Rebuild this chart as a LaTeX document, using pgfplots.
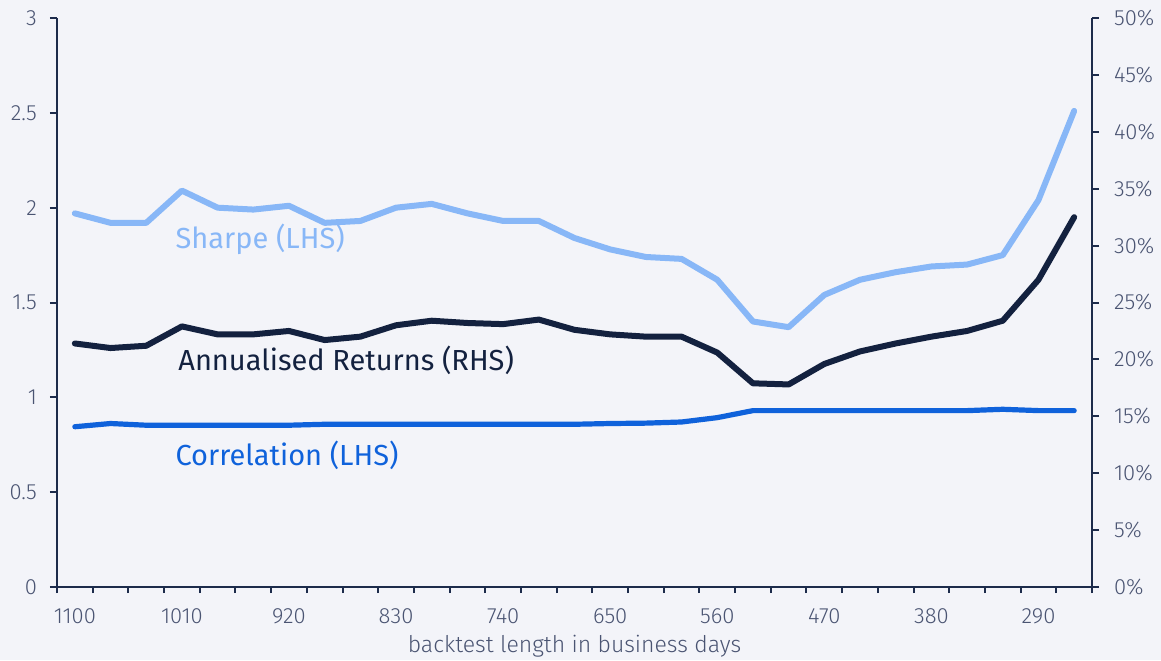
\documentclass[border=0pt]{standalone}
\usepackage{fontspec}
\setmainfont{Fira Sans}
\newfontfamily\firalight{Fira Sans Light}
\usepackage{pgfplots}
\usepackage{pgfplotstable}
\pgfplotsset{compat=1.18}

\definecolor{bg}{HTML}{F3F4F9}
\definecolor{sharpecol}{HTML}{88B7F7}
\definecolor{navy}{HTML}{13213F}
\definecolor{corrcol}{HTML}{0F62DB}
\definecolor{axiscol}{HTML}{1C2B4B}
\definecolor{tickcol}{HTML}{4A5472}

% backtest length steps of 30 days, from 1100 down to 260
\pgfplotstableread{
i  days sharpe ret  corr
0  1100 1.97  21.4 0.845
1  1070 1.92  21.0 0.862
2  1040 1.92  21.2 0.853
3  1010 2.09  22.9 0.853
4  980  2.00  22.2 0.853
5  950  1.99  22.2 0.853
6  920  2.01  22.5 0.853
7  890  1.92  21.7 0.858
8  860  1.93  22.0 0.858
9  830  2.00  23.0 0.858
10 800  2.02  23.4 0.858
11 770  1.97  23.2 0.858
12 740  1.93  23.1 0.858
13 710  1.93  23.5 0.858
14 680  1.84  22.6 0.858
15 650  1.78  22.2 0.862
16 620  1.74  22.0 0.864
17 590  1.73  22.0 0.870
18 560  1.62  20.6 0.893
19 530  1.40  17.9 0.930
20 500  1.37  17.8 0.930
21 470  1.54  19.6 0.930
22 440  1.62  20.7 0.930
23 410  1.66  21.4 0.930
24 380  1.69  22.0 0.930
25 350  1.70  22.5 0.930
26 320  1.75  23.4 0.937
27 290  2.04  27.0 0.930
28 260  2.51  32.5 0.930
}\data

\begin{document}
\begin{tikzpicture}[x=1pt,y=1pt]
\path[use as bounding box, fill=bg] (0,0) rectangle (580.5,330);
\pgfplotsset{
  common/.style={
    at={(28.5pt,36.5pt)}, anchor=south west,
    scale only axis, width=517.5pt, height=284.5pt,
    xmin=-0.5, xmax=28.5,
    axis line style={axiscol, line width=1pt, -},
    tick style={axiscol, line width=1pt},
    tick align=outside,
    major tick length=3.5pt, minor tick length=3pt,
    ticklabel style={font=\firalight\fontsize{11}{13}\selectfont, text=tickcol},
    clip=false,
  }
}
\begin{axis}[common,
  axis x line*=bottom, axis y line*=left,
  ymin=0, ymax=3,
  ytick={0,0.5,1,1.5,2,2.5,3},
  yticklabels={0,0.5,1,1.5,2,2.5,3},
  yticklabel style={xshift=-3pt},
  xtick={0,3,...,27},
  xticklabels={1100,1010,920,830,740,650,560,470,380,290},
  minor xtick={-0.5,0.5,...,28.5},
  major x tick style={draw=none},
  xticklabel style={yshift=-4pt},
]
\addplot[sharpecol, line width=3pt, line join=round, line cap=round] table[x=i, y=sharpe] {\data};
\addplot[corrcol, line width=2.6pt, line join=round, line cap=round] table[x=i, y=corr] {\data};
\node[anchor=base west, inner sep=0, text=sharpecol, font=\fontsize{14.5}{16}\selectfont] at (axis cs:2.81,1.787) {Sharpe (LHS)};
\node[anchor=base west, inner sep=0, text=navy, font=\fontsize{14.5}{16}\selectfont] at (axis cs:2.89,1.144) {Annualised Returns (RHS)};
\node[anchor=base west, inner sep=0, text=corrcol, font=\fontsize{14.5}{16}\selectfont] at (axis cs:2.81,0.643) {Correlation (LHS)};
\node[anchor=base, inner sep=0, text=tickcol, font=\firalight\fontsize{11.5}{13}\selectfont] at (rel axis cs:0.5,0) [yshift=-32.5pt] {backtest length in business days};
\end{axis}
\begin{axis}[common,
  axis x line=none, axis y line*=right,
  ymin=0, ymax=50,
  ytick={0,5,...,50},
  yticklabels={0\%,5\%,10\%,15\%,20\%,25\%,30\%,35\%,40\%,45\%,50\%},
  yticklabel style={xshift=4pt},
]
\addplot[navy, line width=3pt, line join=round, line cap=round] table[x=i, y=ret] {\data};
\end{axis}
\end{tikzpicture}
\end{document}
